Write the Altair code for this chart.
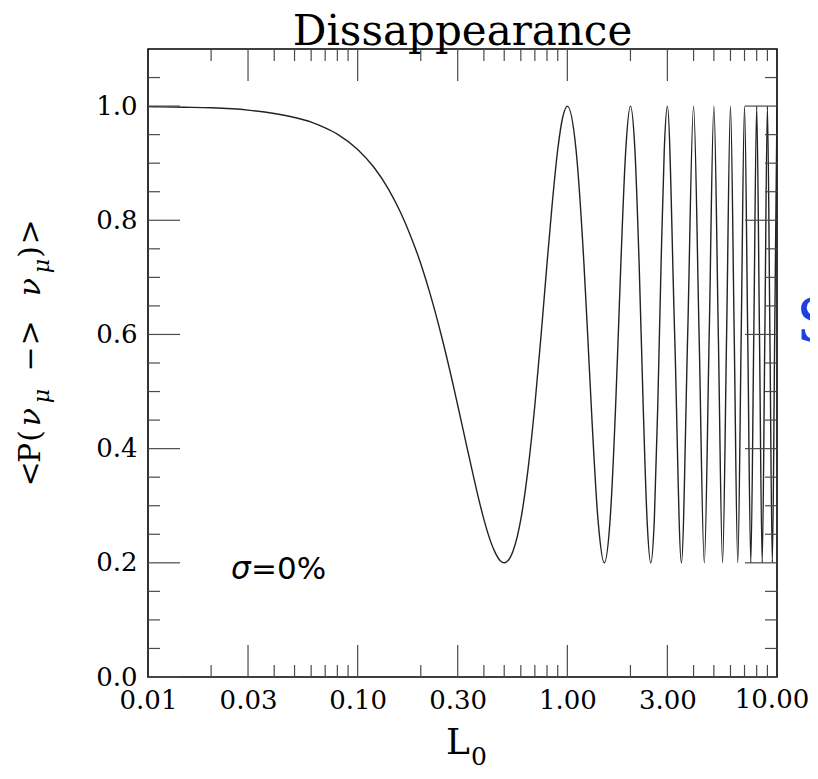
import altair as alt
import pandas as pd

# ---------------- data ----------------
L0 = [0.01, 0.015, 0.02, 0.03, 0.04, 0.05, 0.06, 0.07, 0.08, 0.1,
      0.12, 0.14, 0.16, 0.18, 0.2, 0.22, 0.25, 0.28, 0.3, 0.33,
      0.35, 0.38, 0.4, 0.43, 0.45, 0.48, 0.5, 0.55, 0.6, 0.65,
      0.7, 0.75, 0.8, 0.85, 0.9, 0.95, 1.0,
      1.1, 1.2, 1.25, 1.3, 1.4, 1.5, 1.6, 1.7, 1.75, 1.8, 1.9, 2.0,
      2.1, 2.2, 2.3, 2.4, 2.5, 2.6, 2.7, 2.8, 2.9, 3.0,
      3.25, 3.5, 3.75, 4.0, 4.25, 4.5, 4.75, 5.0,
      5.25, 5.5, 5.75, 6.0, 6.25, 6.5, 6.75, 7.0,
      7.25, 7.5, 7.75, 8.0, 8.25, 8.5, 8.75, 9.0,
      9.25, 9.5, 9.75, 10.0]
P = [0.999, 0.998, 0.997, 0.993, 0.987, 0.980, 0.972, 0.962, 0.951, 0.924,
     0.892, 0.855, 0.814, 0.770, 0.724, 0.675, 0.600, 0.525, 0.476, 0.407,
     0.365, 0.308, 0.276, 0.238, 0.220, 0.203, 0.200, 0.220, 0.276, 0.365,
     0.476, 0.600, 0.724, 0.835, 0.924, 0.980, 1.000,
     0.924, 0.724, 0.600, 0.476, 0.276, 0.200, 0.276, 0.476, 0.600, 0.724, 0.924, 1.000,
     0.924, 0.724, 0.476, 0.276, 0.200, 0.276, 0.476, 0.724, 0.924, 1.000,
     0.600, 0.200, 0.600, 1.000, 0.600, 0.200, 0.600, 1.000,
     0.600, 0.200, 0.600, 1.000, 0.600, 0.200, 0.600, 1.000,
     0.600, 0.200, 0.600, 1.000, 0.600, 0.200, 0.600, 1.000,
     0.600, 0.200, 0.600, 1.000]

x_labels = [0.01, 0.03, 0.1, 0.3, 1, 3, 10]
x_major = [0.03, 0.1, 0.3, 1, 3]
x_minor = [0.02, 0.04, 0.05, 0.06, 0.07, 0.08, 0.09,
           0.2, 0.4, 0.5, 0.6, 0.7, 0.8, 0.9,
           2, 4, 5, 6, 7, 8, 9]
y_major = [0.0, 0.2, 0.4, 0.6, 0.8, 1.0]
y_minor = [0.05, 0.1, 0.15, 0.25, 0.3, 0.35, 0.45, 0.5, 0.55,
           0.65, 0.7, 0.75, 0.85, 0.9, 0.95, 1.05]

title_text = "Dissappearance"
sigma_label = ["σ", "=0%"]
ytitle_pieces = ["<", "P", "(", "ν", "μ", "−", ">", "ν", "μ", ")", ">"]
xtitle_pieces = ["L", "0"]

# ---------------- layout ----------------
W, H = 629, 628
MAJ, MIN = 32, 12
SERIF = "DejaVu Serif"
SANS = "DejaVu Sans"
TICK = "#4a4a4a"
LABEL_SIZE = 26

xs = alt.Scale(type="log", domain=[0.01, 10], nice=False)
ys = alt.Scale(domain=[0, 1.1], nice=False, zero=False)

xaxis = alt.Axis(
    values=x_labels[:-1], format=".2f", title=None, ticks=False, domain=False,
    grid=False, labelFont=SERIF, labelFontSize=LABEL_SIZE, labelColor="black",
    labelPadding=10, labelFlush=False, labelOverlap=False)
yaxis = alt.Axis(
    values=y_major, format=".1f", title=None, ticks=False, domain=False,
    grid=False, labelFont=SERIF, labelFontSize=LABEL_SIZE, labelColor="black",
    labelPadding=11, labelOverlap=False)

one = pd.DataFrame({"a": [0]})

curve = alt.Chart(pd.DataFrame({"L0": L0, "P": P})).mark_line(
    color="#222222", strokeWidth=1.4, interpolate="monotone", clip=True
).encode(
    x=alt.X("L0:Q", scale=xs, axis=xaxis),
    y=alt.Y("P:Q", scale=ys, axis=yaxis),
)

# last x label (kept inside the page edge)
last_label = alt.Chart(pd.DataFrame({
    "L0": [x_labels[-1]], "lab": [f"{x_labels[-1]:.2f}"]})).mark_text(
    font=SERIF, fontSize=LABEL_SIZE, baseline="top", align="center",
    color="black", dx=-5
).encode(x=alt.X("L0:Q", scale=xs, axis=xaxis), y=alt.value(H + 10),
         text="lab:N")


def xticks(vals, length, top):
    if top:
        yy, yy2 = alt.value(0), alt.value(length)
    else:
        yy, yy2 = alt.value(H), alt.value(H - length)
    return alt.Chart(pd.DataFrame({"L0": vals})).mark_rule(
        color=TICK, strokeWidth=1.2
    ).encode(x=alt.X("L0:Q", scale=xs, axis=xaxis), y=yy, y2=yy2)


def yticks(vals, length, right):
    if right:
        xx, xx2 = alt.value(W), alt.value(W - length)
    else:
        xx, xx2 = alt.value(0), alt.value(length)
    return alt.Chart(pd.DataFrame({"P": vals})).mark_rule(
        color=TICK, strokeWidth=1.2
    ).encode(y=alt.Y("P:Q", scale=ys, axis=yaxis), x=xx, x2=xx2)


ticks = [
    xticks(x_major, MAJ, False), xticks(x_minor, MIN, False),
    xticks(x_major, MAJ, True), xticks(x_minor, MIN, True),
    yticks(y_major, MAJ, False), yticks(y_minor, MIN, False),
    yticks(y_major, MAJ, True), yticks(y_minor, MIN, True),
]


def txt(s, x, y, size, font=SERIF, align="center", angle=0, style="normal",
        color="black"):
    kw = dict(text=s, font=font, fontSize=size, align=align,
              baseline="alphabetic", color=color, fontStyle=style)
    if angle:
        kw["angle"] = angle
    return alt.Chart(one).mark_text(**kw).encode(x=alt.value(x), y=alt.value(y))


texts = [txt(title_text, W / 2, -4, 42)]

# y title pieces (rotated), chart coords
ycent = [425, 404, 387, 368, 347, 310, 284, 238, 217, 203, 183]
for i, piece in enumerate(ytitle_pieces):
    is_sub = i in (4, 8)
    is_greek = piece in ("ν", "μ")
    texts.append(txt(piece, -99 if is_sub else -108, ycent[i],
                     22 if is_sub else 30, angle=270,
                     style="italic" if is_greek else "normal"))

# x title
texts.append(txt(xtitle_pieces[0], 310, 705, 36))
texts.append(txt(xtitle_pieces[1], 323, 716, 25, align="left"))

# sigma label
texts.append(txt(sigma_label[0], 83, 530, 31, font=SANS, align="left",
                 style="italic"))
texts.append(txt(sigma_label[1], 103, 530, 31, font=SANS, align="left"))

# blue slide letter at the right edge
texts.append(txt("S", 648, 293, 60, align="left", color="#1f3fe0"))

chart = alt.layer(curve, last_label, *ticks, *texts).properties(
    width=W, height=H,
    padding={"left": 140, "top": 41, "right": 33, "bottom": 94},
    autosize=alt.AutoSizeParams(type="none"),
    background="white",
).configure_view(stroke="black", strokeWidth=1.6)

chart.save("out.html", embed_options={"renderer": "svg", "actions": False})
